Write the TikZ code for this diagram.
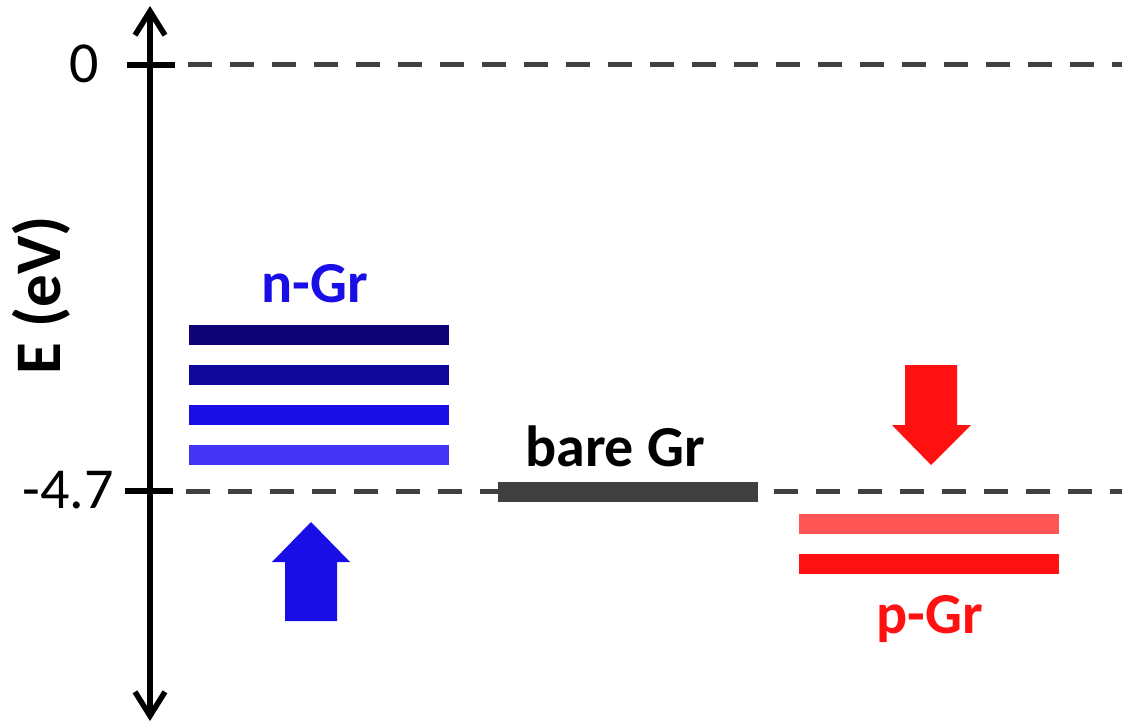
\documentclass[tikz,border=0pt]{standalone}
\usepackage{fontspec}
\setmainfont{Carlito}
\usetikzlibrary{arrows.meta}
\definecolor{refgray}{RGB}{64,64,64}
\definecolor{nA}{RGB}{14,4,120}
\definecolor{nB}{RGB}{16,8,154}
\definecolor{nC}{RGB}{26,14,230}
\definecolor{nD}{RGB}{68,52,245}
\definecolor{pA}{RGB}{255,85,85}
\definecolor{pB}{RGB}{255,17,17}
\begin{document}
\begin{tikzpicture}[x=1pt,y=-1pt,
  level/.style={draw=none, minimum width=260pt, minimum height=20pt, inner sep=0pt},
  lbl/.style={font=\fontsize{58}{60}\selectfont\bfseries, anchor=base, inner sep=0pt},
  ticklbl/.style={font=\fontsize{58}{60}\selectfont, anchor=base east, inner sep=0pt},
  tickmark/.style={line width=5.5pt},
  refline/.style={draw=refgray, line width=5pt, dash pattern=on 24pt off 18pt},
  axis/.style={line width=5.5pt, line cap=round, line join=round,
    {Straight Barb[length=24pt,width=30pt]}-{Straight Barb[length=24pt,width=30pt]}}]
\useasboundingbox (0,0) rectangle (1122,727);

% energy axis
\coordinate (top) at (150,6);
\coordinate (bottom) at (150,721);
\draw[axis] (bottom) -- (top);
\node[font=\fontsize{65}{67}\selectfont\bfseries, rotate=90, inner sep=0pt] (elabel) at (41,295) {E (eV)};

% vacuum level
\coordinate (t0l) at (127,65);
\coordinate (t0r) at (175,65);
\coordinate (d0s) at (188,65);
\coordinate (d0e) at (1122,65);
\draw[tickmark] (t0l) -- (t0r);
\draw[refline] (d0s) -- (d0e);
\node[ticklbl] (zero) at (99,83) {0};

% graphene work function level
\coordinate (t1l) at (125,491);
\coordinate (t1r) at (173,491);
\coordinate (d1s) at (186,491);
\coordinate (d1e) at (1122,491);
\draw[tickmark] (t1l) -- (t1r);
\draw[refline] (d1s) -- (d1e);
\node[ticklbl] (wf) at (114,508) {-4.7};

% n-doped graphene levels
\node[level, fill=nA] (n1) at (319,335) {};
\node[level, fill=nB] (n2) at (319,375) {};
\node[level, fill=nC] (n3) at (319,415) {};
\node[level, fill=nD] (n4) at (319,455) {};
\node[lbl, text=nC] (nlabel) at (315,303) {n-Gr};

% bare graphene level
\node[level, fill=refgray] (bare) at (628,492) {};
\node[lbl, text=black] (barelabel) at (615,466) {bare Gr};

% p-doped graphene levels
\node[level, fill=pA] (p1) at (929,524) {};
\node[level, fill=pB] (p2) at (929,564) {};
\node[lbl, text=pB] (plabel) at (930,633) {p-Gr};

% shift arrows
\fill[nC] (311,522) -- (350,562) -- (337,562) -- (337,621) -- (285,621) -- (285,562) -- (272,562) -- cycle;
\fill[pB] (931,465) -- (971,425) -- (957,425) -- (957,365) -- (905,365) -- (905,425) -- (892,425) -- cycle;
\end{tikzpicture}
\end{document}
